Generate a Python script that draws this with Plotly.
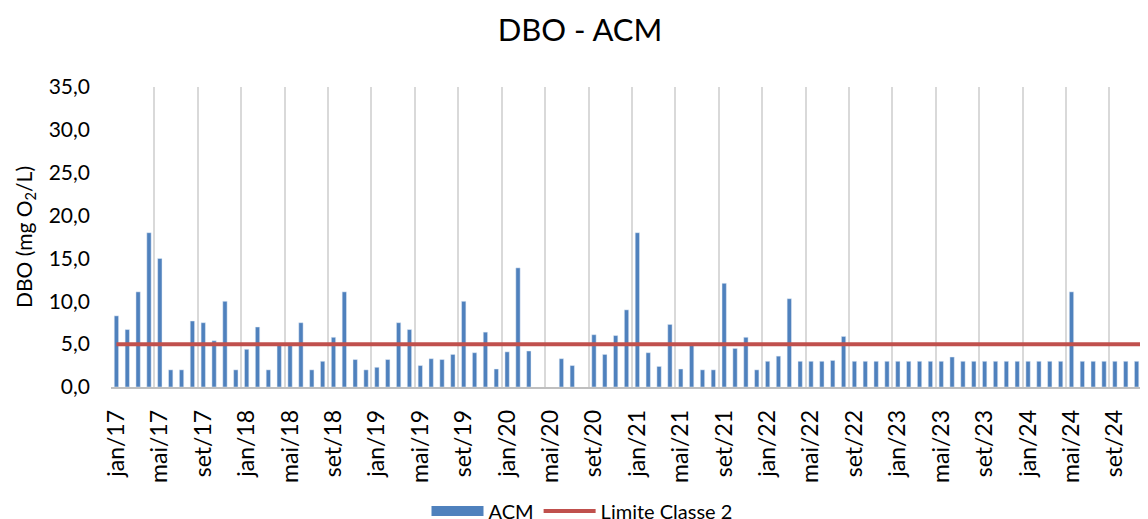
import plotly.graph_objects as go

# meses jan/17 .. dez/24
meses = ['jan', 'fev', 'mar', 'abr', 'mai', 'jun', 'jul', 'ago', 'set', 'out', 'nov', 'dez']
anos = ['17', '18', '19', '20', '21', '22', '23', '24']
categorias = [m + '/' + a for a in anos for m in meses]

# DBO (mg O2/L) - ACM
dbo_2017 = [8.3, 6.7, 11.1, 18.0, 15.0, 2.0, 2.0, 7.7, 7.5, 5.4, 10.0, 2.0]
dbo_2018 = [4.4, 7.0, 2.0, 4.9, 4.9, 7.5, 2.0, 3.0, 5.8, 11.1, 3.2, 2.0]
dbo_2019 = [2.3, 3.2, 7.5, 6.7, 2.5, 3.3, 3.2, 3.8, 10.0, 4.0, 6.4, 2.1]
dbo_2020 = [4.1, 13.9, 4.2, None, None, 3.3, 2.5, None, 6.1, 3.8, 6.0, 9.0]
dbo_2021 = [18.0, 4.0, 2.4, 7.3, 2.1, 4.9, 2.0, 2.0, 12.1, 4.5, 5.8, 2.0]
dbo_2022 = [3.0, 3.6, 10.3, 3.0, 3.0, 3.0, 3.1, 5.9, 3.0, 3.0, 3.0, 3.0]
dbo_2023 = [3.0, 3.0, 3.0, 3.0, 3.0, 3.5, 3.0, 3.0, 3.0, 3.0, 3.0, 3.0]
dbo_2024 = [3.0, 3.0, 3.0, 3.0, 11.1, 3.0, 3.0, 3.0, 3.0, 3.0, 3.0, 3.0]
dbo = dbo_2017 + dbo_2018 + dbo_2019 + dbo_2020 + dbo_2021 + dbo_2022 + dbo_2023 + dbo_2024

limite_classe2 = 5.0

x = list(range(len(categorias)))
azul = '#4F81BD'
vermelho = '#C0504D'
fonte = 'Lato'

# a página tem 8px de margem no body, por isso tudo vai deslocado 8px
W, H = 1148, 519

fig = go.Figure()

fig.add_trace(go.Bar(
    x=x, y=dbo, name='ACM', marker_color=azul, width=0.4, showlegend=False
))
# entrada de legenda em forma de retângulo largo
fig.add_trace(go.Scatter(
    x=[None], y=[None], mode='lines', name='ACM',
    line=dict(color=azul, width=16)
))
fig.add_trace(go.Scatter(
    x=x, y=[limite_classe2] * len(x), mode='lines', name='Limite Classe 2',
    line=dict(color=vermelho, width=4)
))

fig.update_layout(
    width=W, height=H,
    margin=dict(l=103, r=8, t=79, b=140),
    paper_bgcolor='white', plot_bgcolor='white',
    font=dict(family=fonte, size=20, color='#000000'),
    separators=',.',
    title=dict(text='DBO - ACM', x=572 / W, xref='container', xanchor='center',
               y=1 - 22 / H, yref='container', yanchor='middle',
               font=dict(size=31, family=fonte, color='#000000')),
    legend=dict(orientation='h', x=574 / W, xref='container', xanchor='center',
                y=1 - 503 / H, yref='container', yanchor='middle',
                font=dict(size=20), itemwidth=52, traceorder='normal'),
    bargap=0.6,
)

fig.update_xaxes(
    range=[-0.5, 95.05],
    tickmode='array', tickvals=x[::4], ticktext=categorias[::4],
    tickangle=-90, ticks='', showgrid=False, zeroline=False,
    showline=True, linecolor='#BFBFBF', linewidth=1.5,
    ticklabelstandoff=12,
    minor=dict(tickmode='array', tickvals=[i - 0.5 for i in range(0, 97, 4)],
               showgrid=True, gridcolor='#D9D9D9', gridwidth=1.5, ticks=''),
    tickfont=dict(size=23),
)

fig.update_yaxes(
    range=[0, 35], tickmode='array', tickvals=list(range(0, 36, 5)),
    tickformat='.1f', showgrid=False, zeroline=False, showline=False,
    ticklabelstandoff=20,
    title=dict(text='DBO (mg O<sub>2</sub>/L)', font=dict(size=21), standoff=10),
    tickfont=dict(size=21),
)

fig.write_html('out.html')
